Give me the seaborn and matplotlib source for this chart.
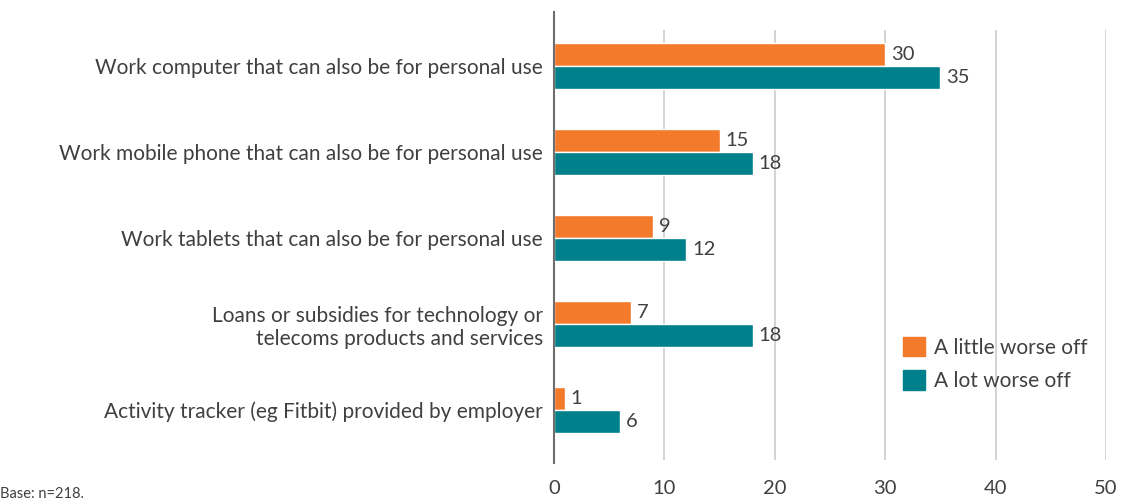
import matplotlib
matplotlib.use("Agg")
import matplotlib.pyplot as plt
import matplotlib.patches as mpatches
import pandas as pd
import seaborn as sns

categories = [
    "Work computer that can also be for personal use",
    "Work mobile phone that can also be for personal use",
    "Work tablets that can also be for personal use",
    "Loans or subsidies for technology or\ntelecoms products and services",
    "Activity tracker (eg Fitbit) provided by employer",
]
series_names = ["A little worse off", "A lot worse off"]
little_worse = [30, 15, 9, 7, 1]
lot_worse = [35, 18, 12, 18, 6]
x_ticks = [0, 10, 20, 30, 40, 50]

colors = ["#F37A2B", "#00808A"]
text_color = "#404040"

df = pd.DataFrame({
    "category": categories * 2,
    "group": [series_names[0]] * len(categories) + [series_names[1]] * len(categories),
    "value": little_worse + lot_worse,
})

sns.set_style("white")
plt.rcParams["font.family"] = ["Lato", "DejaVu Sans"]

fig = plt.figure(figsize=(11.32, 5.04), dpi=100)
ax = fig.add_axes([554 / 1132, 1 - 463 / 504, (1106 - 554) / 1132, (463 - 12) / 504])

sns.barplot(data=df, x="value", y="category", hue="group", order=categories,
            hue_order=series_names, palette=colors, orient="h", width=0.535,
            saturation=1, ax=ax, legend=False)

ax.set_xlim(0, 50)
ax.set_ylim(4.62, -0.63)

# light vertical gridlines
ax.vlines(x_ticks[1:], -0.42, 4.59, colors="#CCCCCC", linewidth=1.2, zorder=0)

for s in ["top", "right", "bottom"]:
    ax.spines[s].set_visible(False)
ax.spines["left"].set_color("#6E6E6E")
ax.spines["left"].set_linewidth(1.5)
ax.spines["left"].set_zorder(5)

ax.set_xticks(x_ticks)
ax.set_xticklabels([str(t) for t in x_ticks])
ax.tick_params(axis="x", length=0, pad=12, labelsize=14.5, labelcolor=text_color)
ax.tick_params(axis="y", length=0, pad=8, labelsize=15, labelcolor=text_color)
ax.set_xlabel("")
ax.set_ylabel("")
for lbl in ax.get_yticklabels():
    lbl.set_horizontalalignment("right")
    lbl.set_multialignment("right")

for cont in ax.containers:
    ax.bar_label(cont, fmt="%d", padding=4, fontsize=14.5, color=text_color)

handles = [mpatches.Patch(color=c, label=n) for c, n in zip(colors, series_names)]
fig.legend(handles=handles, loc="center left", bbox_to_anchor=(884 / 1132, 1 - 364 / 504),
           frameon=False, fontsize=15, labelcolor=text_color, handlelength=1.05,
           handleheight=1.05, handletextpad=0.45, labelspacing=0.6)

fig.text(0, 1 - 494 / 504, "Base: n=218.", fontsize=10.5, color=text_color, va="center", ha="left")

fig.savefig("out.png", dpi=100)
